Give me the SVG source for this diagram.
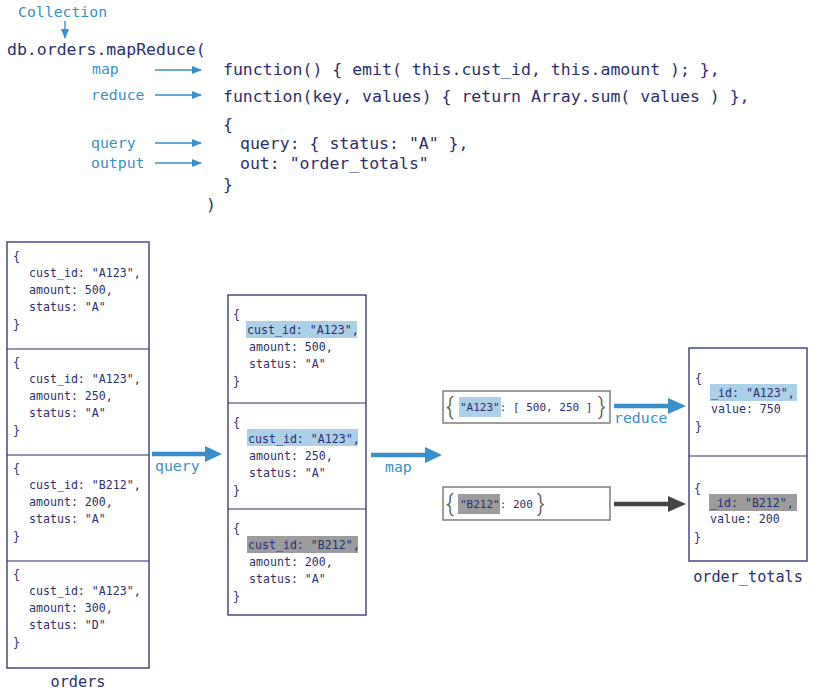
<svg xmlns="http://www.w3.org/2000/svg" width="815" height="700" viewBox="0 0 815 700">
<defs>
<style>
.code{font-family:"DejaVu Sans Mono","Liberation Mono",monospace;font-size:16.5px;fill:#2b2f6e}
.lbl{font-family:"DejaVu Sans Mono","Liberation Mono",monospace;font-size:14.8px;fill:#3a8fc8}
.doc{font-family:"DejaVu Sans Mono","Liberation Mono",monospace;font-size:11.6px;fill:#2b2f6e}
.kvt{font-family:"DejaVu Sans Mono","Liberation Mono",monospace;font-size:11px;fill:#2b2f6e}
.box{fill:#fff;stroke:#2b2f6e;stroke-width:1.3}
.div{stroke:#2b2f6e;stroke-width:1.2}
.kv{fill:#fff;stroke:#6b6b6b;stroke-width:1.3}
.brace{font-family:"Roboto","Open Sans",sans-serif;font-size:23px;fill:#555;font-weight:300}
.hlb{fill:#abd0e8}
.hlg{fill:#9c9c9c}
.thin{stroke:#3a8fc8;stroke-width:1.3;fill:none}
.thick{stroke:#3a8fc8;stroke-width:4.5;fill:none}
.thickd{stroke:#444;stroke-width:4.5;fill:none}
.cap{font-family:"DejaVu Sans Mono","Liberation Mono",monospace;font-size:15.2px;fill:#2b2f6e}
</style>
<marker id="ah" markerWidth="10" markerHeight="8" refX="9" refY="4" orient="auto" markerUnits="userSpaceOnUse">
<path d="M0,0 L10,4 L0,8 Z" fill="#3a8fc8"/>
</marker>
</defs>

<g id="code">
<text class="lbl" x="18" y="17">Collection</text>
<text class="code" x="7" y="55">db.orders.mapReduce(</text>
<text class="lbl" x="92" y="74">map</text>
<text class="code" x="223" y="75">function() { emit( this.cust_id, this.amount ); },</text>
<text class="lbl" x="91" y="100">reduce</text>
<text class="code" x="223" y="102">function(key, values) { return Array.sum( values ) },</text>
<text class="code" x="223" y="130">{</text>
<text class="lbl" x="91" y="148">query</text>
<text class="code" x="240" y="149">query: { status: "A" },</text>
<text class="lbl" x="91" y="168">output</text>
<text class="code" x="240" y="169">out: "order_totals"</text>
<text class="code" x="223" y="190">}</text>
<text class="code" x="206" y="210">)</text>
</g>

<g id="orders">
<rect class="box" x="7" y="242" width="142" height="426"/>
<line class="div" x1="7" y1="349" x2="149" y2="349"/>
<line class="div" x1="7" y1="455" x2="149" y2="455"/>
<line class="div" x1="7" y1="561" x2="149" y2="561"/>
<text class="doc" x="13" y="260">{</text>
<text class="doc" x="29" y="277">cust_id: "A123",</text>
<text class="doc" x="29" y="294">amount: 500,</text>
<text class="doc" x="29" y="311">status: "A"</text>
<text class="doc" x="13" y="328">}</text>
<text class="doc" x="13" y="366">{</text>
<text class="doc" x="29" y="383">cust_id: "A123",</text>
<text class="doc" x="29" y="400">amount: 250,</text>
<text class="doc" x="29" y="417">status: "A"</text>
<text class="doc" x="13" y="434">}</text>
<text class="doc" x="13" y="472">{</text>
<text class="doc" x="29" y="489">cust_id: "B212",</text>
<text class="doc" x="29" y="506">amount: 200,</text>
<text class="doc" x="29" y="523">status: "A"</text>
<text class="doc" x="13" y="540">}</text>
<text class="doc" x="13" y="578">{</text>
<text class="doc" x="29" y="595">cust_id: "A123",</text>
<text class="doc" x="29" y="612">amount: 300,</text>
<text class="doc" x="29" y="629">status: "D"</text>
<text class="doc" x="13" y="646">}</text>
<text class="cap" x="78" y="687" text-anchor="middle">orders</text>
</g>

<g id="query-result">
<rect class="box" x="228" y="295" width="138" height="320"/>
<line class="div" x1="228" y1="403" x2="366" y2="403"/>
<line class="div" x1="228" y1="509" x2="366" y2="509"/>
<text class="doc" x="233" y="318">{</text>
<rect class="hlb" x="246" y="321" width="111" height="17"/>
<text class="doc" x="247" y="334">cust_id: "A123",</text>
<text class="doc" x="249" y="351">amount: 500,</text>
<text class="doc" x="249" y="368">status: "A"</text>
<text class="doc" x="233" y="385">}</text>
<text class="doc" x="233" y="426">{</text>
<rect class="hlb" x="247" y="429" width="111" height="17"/>
<text class="doc" x="248" y="443">cust_id: "A123",</text>
<text class="doc" x="249" y="460">amount: 250,</text>
<text class="doc" x="249" y="477">status: "A"</text>
<text class="doc" x="233" y="494">}</text>
<text class="doc" x="233" y="532">{</text>
<rect class="hlg" x="247" y="536" width="111" height="17"/>
<text class="doc" x="248" y="549">cust_id: "B212",</text>
<text class="doc" x="249" y="566">amount: 200,</text>
<text class="doc" x="249" y="583">status: "A"</text>
<text class="doc" x="233" y="600">}</text>
</g>

<g id="map-a123">
<rect class="kv" x="443" y="391" width="167" height="32"/>
<text class="brace" x="446" y="415">{</text>
<rect class="hlb" x="459" y="397" width="42" height="20"/>
<text class="kvt" x="460" y="411">"A123": [ 500, 250 ]</text>
<text class="brace" x="598" y="415">}</text>
</g>

<g id="map-b212">
<rect class="kv" x="443" y="487" width="167" height="33"/>
<text class="brace" x="446" y="512">{</text>
<rect class="hlg" x="458" y="494" width="42" height="20"/>
<text class="kvt" x="460" y="508">"B212": 200</text>
<text class="brace" x="537" y="512">}</text>
</g>

<g id="order_totals">
<rect class="box" x="689" y="348" width="118" height="213"/>
<line class="div" x1="689" y1="456" x2="807" y2="456"/>
<text class="doc" x="695" y="382">{</text>
<rect class="hlb" x="710" y="384" width="87" height="17"/>
<text class="doc" x="711" y="397">_id: "A123",</text>
<text class="doc" x="711" y="413">value: 750</text>
<text class="doc" x="695" y="430">}</text>
<text class="doc" x="694" y="492">{</text>
<rect class="hlg" x="709" y="494" width="88" height="17"/>
<text class="doc" x="710" y="507">_id: "B212",</text>
<text class="doc" x="710" y="523">value: 200</text>
<text class="doc" x="694" y="541">}</text>
<text class="cap" x="748" y="582" text-anchor="middle">order_totals</text>
</g>

<g id="connectors">
<line class="thin" x1="65" y1="21" x2="65" y2="38" marker-end="url(#ah)"/>
<line class="thin" x1="155" y1="70" x2="201" y2="70" marker-end="url(#ah)"/>
<line class="thin" x1="155" y1="95" x2="201" y2="95" marker-end="url(#ah)"/>
<line class="thin" x1="155" y1="143" x2="201" y2="143" marker-end="url(#ah)"/>
<line class="thin" x1="155" y1="163" x2="201" y2="163" marker-end="url(#ah)"/>

<line class="thick" x1="152" y1="454" x2="206" y2="454"/>
<path d="M205,446 L222,454 L205,462 Z" fill="#3a8fc8"/>
<text class="lbl" x="155" y="471">query</text>

<line class="thick" x1="371" y1="455" x2="426" y2="455"/>
<path d="M425,447 L442,455 L425,463 Z" fill="#3a8fc8"/>
<text class="lbl" x="385" y="472">map</text>

<line class="thick" x1="614" y1="406" x2="670" y2="406"/>
<path d="M668,398 L686,406 L668,414 Z" fill="#3a8fc8"/>
<text class="lbl" x="614" y="423">reduce</text>

<line class="thickd" x1="614" y1="504" x2="670" y2="504"/>
<path d="M668,496 L686,504 L668,512 Z" fill="#444"/>
</g>
</svg>
